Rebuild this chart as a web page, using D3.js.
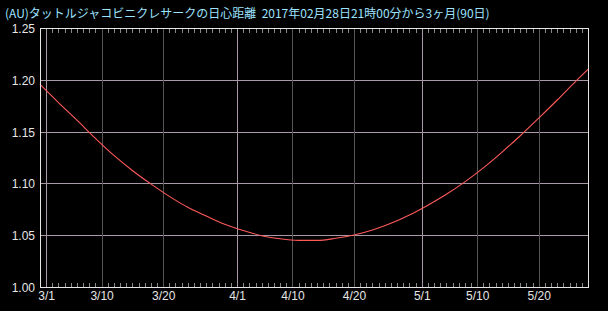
<!DOCTYPE html>
<html>
<head>
<meta charset="utf-8">
<script src="https://cdn.jsdelivr.net/npm/d3@7"></script>
<style>
  html, body { margin: 0; padding: 0; background: #000; }
  svg { display: block; }
</style>
</head>
<body>
<div id="chart"></div>
<script>
// data (UTC dates, heliocentric distance in AU)
var dates = ["2017-02-28","2017-03-03","2017-03-06","2017-03-09","2017-03-12","2017-03-15",
  "2017-03-18","2017-03-21","2017-03-24","2017-03-27","2017-03-30","2017-04-02","2017-04-05",
  "2017-04-08","2017-04-11","2017-04-14","2017-04-17","2017-04-20","2017-04-23","2017-04-26",
  "2017-04-29","2017-05-02","2017-05-05","2017-05-08","2017-05-11","2017-05-14","2017-05-17",
  "2017-05-20","2017-05-23","2017-05-26","2017-05-28"];
var distance = [1.1955,1.178,1.161,1.1435,1.127,1.1125,1.0995,1.0875,1.077,1.0685,1.0605,
  1.0545,1.0495,1.0465,1.0450,1.0450,1.0470,1.0502,1.0550,1.0615,1.0695,1.0790,1.0895,
  1.1015,1.1150,1.1300,1.1460,1.1630,1.1805,1.1985,1.2100];
var xLabels = ["3/1","3/10","3/20","4/1","4/10","4/20","5/1","5/10","5/20"];
var xLabelDates = ["2017-03-01","2017-03-10","2017-03-20","2017-04-01","2017-04-10",
  "2017-04-20","2017-05-01","2017-05-10","2017-05-20"];
var yTicks = [1.00, 1.05, 1.10, 1.15, 1.20, 1.25];
var title = "(AU)タットルジャコビニクレサークの日心距離  2017年02月28日21時00分から3ヶ月(90日)";

(function() {
  var W = 608, H = 311;
  var mLeft = 40, mRight = 588, mTop = 28, mBottom = 287;

  var svg = d3.select("#chart").append("svg")
    .attr("width", W).attr("height", H);

  var parse = d3.utcParse("%Y-%m-%d");
  var data = dates.map(function(d, i) { return { date: parse(d), value: distance[i] }; });

  var x = d3.scaleUtc()
    .domain([parse("2017-02-28"), parse("2017-05-28")])
    .range([mLeft, mRight]);
  var y = d3.scaleLinear().domain([1.0, 1.25]).range([mBottom, mTop]);

  function px(v) { return Math.round(v) + 0.5; }

  // title
  svg.append("text")
    .attr("x", 5).attr("y", 18)
    .style("white-space", "pre")
    .style("font-family", "'Noto Sans CJK JP', sans-serif")
    .style("font-size", "12px")
    .style("fill", "#9de2ff")
    .text(title);

  // daily minor ticks on top and bottom
  var days = d3.utcDay.range(x.domain()[0], d3.utcDay.offset(x.domain()[1], 1));
  svg.append("g").selectAll("line").data(days).enter().append("line")
    .attr("x1", function(d) { return px(x(d)); }).attr("x2", function(d) { return px(x(d)); })
    .attr("y1", mBottom - 4).attr("y2", mBottom)
    .attr("stroke", "#8a8a8a");
  svg.append("g").selectAll("line").data(days).enter().append("line")
    .attr("x1", function(d) { return px(x(d)); }).attr("x2", function(d) { return px(x(d)); })
    .attr("y1", mTop).attr("y2", mTop + 5)
    .attr("stroke", "#8a8a8a");

  // horizontal grid
  svg.append("g").selectAll("line").data(yTicks.slice(1, -1)).enter().append("line")
    .attr("x1", mLeft).attr("x2", mRight)
    .attr("y1", function(d) { return px(y(d)); }).attr("y2", function(d) { return px(y(d)); })
    .attr("stroke", "#a898a8");

  // vertical grid
  svg.append("g").selectAll("line").data(xLabelDates).enter().append("line")
    .attr("x1", function(d) { return px(x(parse(d))); }).attr("x2", function(d) { return px(x(parse(d))); })
    .attr("y1", mTop).attr("y2", mBottom)
    .attr("stroke", function(d) { return d.slice(8) === "01" ? "#a898a8" : "#555555"; });

  // curve
  var line = d3.line()
    .x(function(d) { return x(d.date); })
    .y(function(d) { return y(d.value); })
    .curve(d3.curveMonotoneX);
  svg.append("path").datum(data)
    .attr("d", line)
    .attr("fill", "none")
    .attr("stroke", "#ff5a5a")
    .attr("stroke-width", 1.1);

  // frame
  svg.append("rect")
    .attr("x", mLeft + 0.5).attr("y", mTop + 0.5)
    .attr("width", mRight - mLeft).attr("height", mBottom - mTop)
    .attr("fill", "none").attr("stroke", "#e6e6e6");

  // y labels
  svg.append("g").selectAll("text").data(yTicks).enter().append("text")
    .attr("x", 35).attr("y", function(d) { return y(d) + 5; })
    .attr("text-anchor", "end")
    .style("font-family", "'Liberation Sans', Arial, sans-serif")
    .style("font-size", "12px")
    .style("fill", "#e6e6e6")
    .text(function(d) { return d.toFixed(2); });

  // x labels
  svg.append("g").selectAll("text").data(xLabelDates).enter().append("text")
    .attr("x", function(d) { return x(parse(d)) + 0.5; }).attr("y", 300)
    .attr("text-anchor", "middle")
    .style("font-family", "'Liberation Sans', Arial, sans-serif")
    .style("font-size", "12px")
    .style("fill", "#e6e6e6")
    .text(function(d, i) { return xLabels[i]; });
})();
</script>
</body>
</html>
